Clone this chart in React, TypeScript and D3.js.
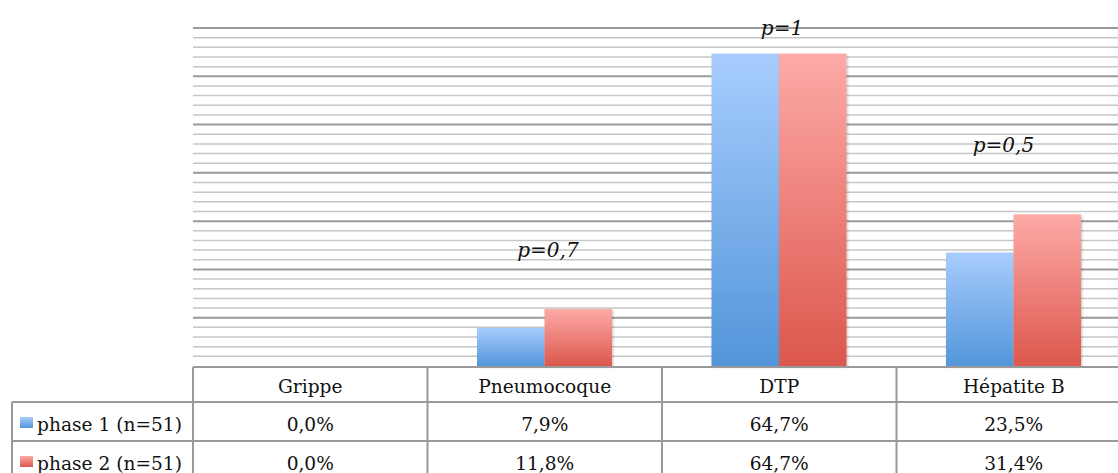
import * as d3 from 'd3'

const categories = ['Grippe', 'Pneumocoque', 'DTP', 'Hépatite B']
const seriesNames = ['phase 1 (n=51)', 'phase 2 (n=51)']
const phase1 = [0.0, 7.9, 64.7, 23.5]
const phase2 = [0.0, 11.8, 64.7, 31.4]
const pLabels = ['', 'p=0,7', 'p=1', 'p=0,5']
const pLabelValues = [0, 22.6, 68.5, 44.3]
const pLabelShift = [0, 3.5, 3, -10]

const W = 1118
const H = 473
const PLOT_LEFT = 193
const BAND = 234.5
const PLOT_TOP = 28
const BASE = 366
const ROW_Y = [367, 402, 441, 480]
const FONT = '"DejaVu Serif", "Liberation Serif", serif'
const FS = 18.6

const blue = ['#a8cdfd', '#5295da']
const red = ['#fdaaa7', '#dc574c']

export default function App() {
  const x = d3
    .scaleBand<string>()
    .domain(categories)
    .range([PLOT_LEFT, PLOT_LEFT + BAND * categories.length])
  const xs = d3.scaleBand<number>().domain([0, 1]).range([49.5, 184.5])
  const y = d3.scaleLinear().domain([0, 70]).range([BASE, PLOT_TOP])
  const minor = d3.range(2, 70, 2).filter((v) => v % 10 !== 0)
  const major = d3.range(10, 71, 10)
  const series = [phase1, phase2]
  const grads = [blue, red]

  return (
    <svg
      width={W}
      height={H}
      viewBox={`0 0 ${W} ${H}`}
      style={{ position: 'absolute', left: 0, top: 0, background: '#fff' }}
    >
      <defs>
        {grads.map((g, i) => (
          <linearGradient key={i} id={`g${i}`} x1="0" y1="0" x2="0" y2="1">
            <stop offset="0" stopColor={g[0]} />
            <stop offset="1" stopColor={g[1]} />
          </linearGradient>
        ))}
        <filter id="sh" x="-10%" y="-10%" width="130%" height="130%">
          <feDropShadow dx="1.2" dy="1.2" stdDeviation="1" floodColor="#000" floodOpacity="0.22" />
        </filter>
      </defs>

      {minor.map((v) => (
        <line key={'mi' + v} x1={PLOT_LEFT} x2={W} y1={y(v)} y2={y(v)} stroke="#c6c6c6" strokeWidth={1.5} />
      ))}
      {major.map((v) => (
        <line key={'ma' + v} x1={PLOT_LEFT} x2={W} y1={y(v)} y2={y(v)} stroke="#9a9a9a" strokeWidth={2} />
      ))}

      {categories.map((c, ci) =>
        series.map((s, si) =>
          s[ci] > 0 ? (
            <rect
              key={c + si}
              x={x(c)! + xs(si)!}
              y={y(s[ci])}
              width={xs.bandwidth()}
              height={y(0) - y(s[ci])}
              fill={`url(#g${si})`}
              filter="url(#sh)"
            />
          ) : null,
        ),
      )}

      {categories.map((c, ci) =>
        pLabels[ci] ? (
          <text
            key={'p' + c}
            x={x(c)! + xs(1)! + pLabelShift[ci]}
            y={y(pLabelValues[ci])}
            textAnchor="middle"
            fontFamily={FONT}
            fontStyle="italic"
            fontSize={20}
            fill="#111"
          >
            {pLabels[ci]}
          </text>
        ) : null,
      )}

      {/* data table */}
      <g stroke="#999" strokeWidth={2} fill="none">
        <line x1={PLOT_LEFT} x2={W} y1={ROW_Y[0]} y2={ROW_Y[0]} />
        <line x1={12} x2={W} y1={ROW_Y[1]} y2={ROW_Y[1]} />
        <line x1={12} x2={W} y1={ROW_Y[2]} y2={ROW_Y[2]} />
        <line x1={12} x2={12} y1={ROW_Y[1]} y2={H} />
        {categories.map((c) => (
          <line key={'v' + c} x1={x(c)!} x2={x(c)!} y1={ROW_Y[0]} y2={H} />
        ))}
      </g>
      {categories.map((c) => (
        <text
          key={'h' + c}
          x={x(c)! + BAND / 2}
          y={ROW_Y[0] + 26}
          textAnchor="middle"
          fontFamily={FONT}
          fontSize={FS}
          fill="#111"
        >
          {c}
        </text>
      ))}
      {series.map((s, si) => (
        <g key={'row' + si}>
          <rect x={20} y={ROW_Y[si + 1] + 15} width={13} height={11} fill={`url(#g${si})`} />
          <text x={37} y={ROW_Y[si + 1] + 29} fontFamily={FONT} fontSize={FS} fill="#111">
            {seriesNames[si]}
          </text>
          {categories.map((c, ci) => (
            <text
              key={c}
              x={x(c)! + BAND / 2}
              y={ROW_Y[si + 1] + 29}
              textAnchor="middle"
              fontFamily={FONT}
              fontSize={FS}
              fill="#111"
            >
              {d3.format('.1f')(s[ci]).replace('.', ',') + '%'}
            </text>
          ))}
        </g>
      ))}
    </svg>
  )
}
